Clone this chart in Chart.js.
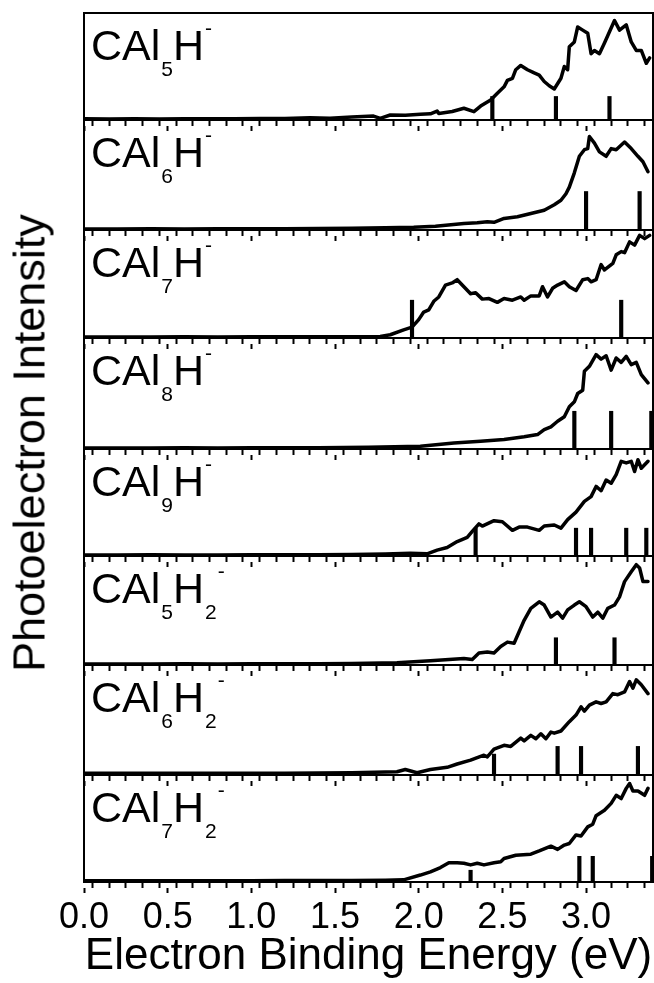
<!DOCTYPE html>
<html>
<head>
<meta charset="utf-8">
<script src="https://cdn.jsdelivr.net/npm/chart.js@4.4.1/dist/chart.umd.min.js"></script>
<style>
  html, body { margin: 0; padding: 0; background: #fff; }
  #wrap { position: relative; width: 654px; height: 983px; overflow: hidden; font-family: "Liberation Sans", Arial, sans-serif; color: #000; }
  #wrap canvas { position: absolute; left: 0; }
  .label { position: absolute; left: 91px; font-size: 43px; line-height: 43px; white-space: nowrap; }
  .label .sub { position: relative; top: 16px; font-size: 21px; margin-left: 1px; }
  .label .sup { position: relative; top: -25px; font-size: 21px; margin-left: 1px; }
  #ytitle { position: absolute; left: 29px; top: 443px; font-size: 45px; line-height: 45px; white-space: nowrap; transform: translate(-50%, -50%) rotate(-90deg); }
</style>
</head>
<body>
<div id="wrap"></div>
<script>
// species shown in each panel, top to bottom
const speciesAl = [5, 6, 7, 8, 9, 5, 6, 7];
const speciesH = [1, 1, 1, 1, 1, 2, 2, 2];

const xTitle = "Electron Binding Energy (eV)";
const yTitle = "Photoelectron Intensity";

// CAl5H-
const cal5hE = [0.00, 0.15, 0.30, 0.45, 0.60, 0.75, 0.90, 1.05, 1.20, 1.35, 1.47, 1.60, 1.73, 1.77, 1.83, 1.92, 2.01, 2.07, 2.11, 2.12, 2.20, 2.27, 2.33, 2.37, 2.43, 2.47, 2.51, 2.53, 2.56, 2.58, 2.61, 2.65, 2.69, 2.72, 2.75, 2.78, 2.81, 2.85, 2.87, 2.89, 2.90, 2.93, 2.95, 2.98, 3.01, 3.03, 3.05, 3.08, 3.11, 3.13, 3.17, 3.20, 3.24, 3.27, 3.30, 3.33, 3.36, 3.38];
const cal5hI = [0.012, 0.010, 0.012, 0.010, 0.011, 0.012, 0.012, 0.013, 0.015, 0.020, 0.016, 0.028, 0.037, 0.016, 0.047, 0.045, 0.053, 0.058, 0.084, 0.060, 0.080, 0.110, 0.078, 0.130, 0.187, 0.250, 0.310, 0.370, 0.390, 0.470, 0.510, 0.470, 0.440, 0.420, 0.360, 0.320, 0.290, 0.390, 0.500, 0.470, 0.685, 0.730, 0.870, 0.840, 0.810, 0.620, 0.650, 0.620, 0.720, 0.790, 0.930, 0.840, 0.890, 0.730, 0.650, 0.650, 0.530, 0.580];
const cal5hSticks = [2.44, 2.82, 3.14];
const cal5hStickH = [0.22, 0.22, 0.22];

// CAl6H-
const cal6hE = [0.00, 0.20, 0.40, 0.60, 0.80, 1.00, 1.20, 1.40, 1.60, 1.80, 1.97, 2.10, 2.27, 2.35, 2.41, 2.45, 2.51, 2.59, 2.67, 2.75, 2.81, 2.85, 2.88, 2.90, 2.93, 2.96, 2.99, 3.01, 3.02, 3.05, 3.08, 3.12, 3.15, 3.18, 3.23, 3.27, 3.31, 3.34, 3.37];
const cal6hI = [0.010, 0.010, 0.011, 0.010, 0.011, 0.012, 0.012, 0.013, 0.015, 0.020, 0.025, 0.035, 0.060, 0.065, 0.075, 0.070, 0.105, 0.120, 0.150, 0.180, 0.230, 0.270, 0.330, 0.390, 0.520, 0.670, 0.730, 0.740, 0.850, 0.790, 0.710, 0.670, 0.740, 0.730, 0.800, 0.740, 0.670, 0.620, 0.530];
const cal6hSticks = [3.00, 3.32];
const cal6hStickH = [0.35, 0.35];

// CAl7H-
const cal7hE = [0.00, 0.20, 0.40, 0.60, 0.80, 1.00, 1.20, 1.40, 1.60, 1.77, 1.83, 1.91, 1.96, 2.00, 2.03, 2.06, 2.09, 2.12, 2.16, 2.20, 2.23, 2.27, 2.31, 2.34, 2.38, 2.42, 2.47, 2.51, 2.56, 2.61, 2.63, 2.67, 2.72, 2.74, 2.77, 2.80, 2.83, 2.87, 2.90, 2.94, 2.98, 3.01, 3.03, 3.06, 3.09, 3.11, 3.16, 3.18, 3.21, 3.23, 3.26, 3.29, 3.32, 3.35, 3.38];
const cal7hI = [0.010, 0.010, 0.010, 0.011, 0.010, 0.011, 0.011, 0.012, 0.012, 0.015, 0.030, 0.075, 0.100, 0.170, 0.240, 0.260, 0.340, 0.380, 0.490, 0.510, 0.540, 0.475, 0.410, 0.420, 0.360, 0.365, 0.330, 0.365, 0.350, 0.380, 0.350, 0.390, 0.390, 0.475, 0.380, 0.460, 0.490, 0.520, 0.475, 0.440, 0.540, 0.550, 0.520, 0.540, 0.680, 0.630, 0.690, 0.770, 0.800, 0.790, 0.890, 0.860, 0.950, 0.920, 0.950];
const cal7hSticks = [1.96, 3.21];
const cal7hStickH = [0.35, 0.35];

// CAl8H-
const cal8hE = [0.00, 0.20, 0.40, 0.60, 0.80, 1.00, 1.20, 1.40, 1.70, 2.01, 2.21, 2.37, 2.51, 2.63, 2.71, 2.75, 2.79, 2.83, 2.87, 2.90, 2.93, 2.95, 2.98, 2.99, 3.02, 3.06, 3.09, 3.12, 3.15, 3.18, 3.21, 3.24, 3.27, 3.30, 3.33, 3.37];
const cal8hI = [0.010, 0.010, 0.010, 0.011, 0.010, 0.011, 0.011, 0.012, 0.015, 0.025, 0.055, 0.070, 0.085, 0.110, 0.130, 0.175, 0.200, 0.250, 0.290, 0.380, 0.425, 0.500, 0.530, 0.700, 0.745, 0.850, 0.810, 0.840, 0.710, 0.820, 0.780, 0.835, 0.760, 0.780, 0.670, 0.595];
const cal8hSticks = [2.93, 3.15, 3.39];
const cal8hStickH = [0.34, 0.34, 0.34];

// CAl9H-
const cal9hE = [0.00, 0.20, 0.40, 0.60, 0.80, 1.00, 1.20, 1.40, 1.60, 1.80, 1.95, 2.05, 2.11, 2.17, 2.23, 2.29, 2.32, 2.36, 2.38, 2.45, 2.50, 2.56, 2.60, 2.65, 2.72, 2.75, 2.81, 2.85, 2.89, 2.94, 2.99, 3.03, 3.06, 3.09, 3.12, 3.15, 3.18, 3.21, 3.24, 3.27, 3.29, 3.31, 3.33, 3.37];
const cal9hI = [0.010, 0.010, 0.011, 0.010, 0.010, 0.011, 0.012, 0.012, 0.013, 0.018, 0.025, 0.020, 0.055, 0.080, 0.135, 0.175, 0.230, 0.300, 0.280, 0.330, 0.320, 0.240, 0.270, 0.270, 0.240, 0.280, 0.290, 0.260, 0.340, 0.410, 0.510, 0.555, 0.650, 0.610, 0.710, 0.680, 0.760, 0.885, 0.870, 0.885, 0.790, 0.900, 0.820, 0.885];
const cal9hSticks = [2.34, 2.94, 3.03, 3.24, 3.36];
const cal9hStickH = [0.26, 0.26, 0.26, 0.26, 0.26];

// CAl5H2-
const cal5h2E = [0.00, 0.20, 0.40, 0.60, 0.80, 1.00, 1.20, 1.40, 1.60, 1.87, 2.07, 2.27, 2.32, 2.36, 2.41, 2.45, 2.49, 2.53, 2.57, 2.60, 2.63, 2.67, 2.72, 2.75, 2.79, 2.83, 2.86, 2.89, 2.93, 2.96, 3.00, 3.04, 3.07, 3.10, 3.13, 3.17, 3.20, 3.23, 3.27, 3.30, 3.32, 3.34, 3.37];
const cal5h2I = [0.010, 0.010, 0.010, 0.011, 0.010, 0.011, 0.012, 0.012, 0.014, 0.020, 0.040, 0.060, 0.050, 0.110, 0.120, 0.110, 0.170, 0.210, 0.200, 0.305, 0.410, 0.520, 0.580, 0.550, 0.440, 0.485, 0.430, 0.505, 0.550, 0.580, 0.535, 0.440, 0.485, 0.430, 0.520, 0.550, 0.625, 0.765, 0.855, 0.920, 0.890, 0.765, 0.765];
const cal5h2Sticks = [2.82, 3.17];
const cal5h2StickH = [0.25, 0.25];

// CAl6H2-
const cal6h2E = [0.00, 0.20, 0.40, 0.60, 0.80, 1.00, 1.20, 1.40, 1.60, 1.87, 1.92, 1.99, 2.07, 2.17, 2.23, 2.31, 2.39, 2.41, 2.45, 2.51, 2.55, 2.61, 2.63, 2.67, 2.70, 2.73, 2.76, 2.79, 2.81, 2.85, 2.90, 2.94, 2.97, 2.99, 3.02, 3.06, 3.09, 3.12, 3.16, 3.19, 3.23, 3.26, 3.28, 3.30, 3.33, 3.37];
const cal6h2I = [0.015, 0.015, 0.016, 0.015, 0.016, 0.017, 0.017, 0.018, 0.020, 0.030, 0.050, 0.020, 0.050, 0.070, 0.100, 0.135, 0.180, 0.165, 0.235, 0.270, 0.260, 0.335, 0.310, 0.360, 0.330, 0.375, 0.330, 0.390, 0.380, 0.400, 0.485, 0.545, 0.620, 0.580, 0.635, 0.665, 0.650, 0.665, 0.740, 0.730, 0.755, 0.850, 0.790, 0.865, 0.820, 0.740];
const cal6h2Sticks = [2.45, 2.83, 2.97, 3.31];
const cal6h2StickH = [0.19, 0.26, 0.26, 0.26];

// CAl7H2-
const cal7h2E = [0.00, 0.20, 0.40, 0.60, 0.80, 1.00, 1.20, 1.40, 1.60, 1.80, 1.91, 2.01, 2.07, 2.13, 2.18, 2.23, 2.27, 2.31, 2.35, 2.39, 2.45, 2.49, 2.51, 2.58, 2.67, 2.72, 2.79, 2.83, 2.87, 2.90, 2.94, 2.97, 3.01, 3.04, 3.06, 3.11, 3.15, 3.18, 3.21, 3.24, 3.26, 3.28, 3.31, 3.35, 3.37];
const cal7h2I = [0.012, 0.012, 0.012, 0.012, 0.012, 0.012, 0.013, 0.013, 0.014, 0.016, 0.020, 0.065, 0.095, 0.135, 0.180, 0.180, 0.175, 0.160, 0.175, 0.160, 0.180, 0.190, 0.220, 0.250, 0.260, 0.290, 0.335, 0.305, 0.345, 0.360, 0.440, 0.430, 0.515, 0.540, 0.620, 0.670, 0.735, 0.810, 0.780, 0.875, 0.920, 0.850, 0.850, 0.810, 0.875];
const cal7h2Sticks = [2.31, 2.96, 3.04, 3.395];
const cal7h2StickH = [0.11, 0.24, 0.24, 0.24];

const spectra = [
  [cal5hE, cal5hI, cal5hSticks, cal5hStickH],
  [cal6hE, cal6hI, cal6hSticks, cal6hStickH],
  [cal7hE, cal7hI, cal7hSticks, cal7hStickH],
  [cal8hE, cal8hI, cal8hSticks, cal8hStickH],
  [cal9hE, cal9hI, cal9hSticks, cal9hStickH],
  [cal5h2E, cal5h2I, cal5h2Sticks, cal5h2StickH],
  [cal6h2E, cal6h2I, cal6h2Sticks, cal6h2StickH],
  [cal7h2E, cal7h2I, cal7h2Sticks, cal7h2StickH],
];

// page layout (pixel edges of the stacked panels)
const panelEdges = [13, 120, 230, 338, 449, 556, 665, 775, 882];
const PAGE_H = 983;
const INK = "#000";
const FONT = "'Liberation Sans', Arial, sans-serif";

Chart.defaults.font.family = FONT;

const wrap = document.getElementById("wrap");

function toPoints(xs, ys) {
  return xs.map((x, i) => ({ x, y: ys[i] }));
}

function hiddenAxis(position) {
  return {
    type: "linear",
    position,
    min: 0,
    max: position === "top" ? 3.4 : 1,
    border: { display: true, color: INK, width: 2 },
    grid: { display: false, drawTicks: false },
    ticks: { display: false },
  };
}

function drawPanel(idx) {
  const [energy, intensity, sticks, stickH] = spectra[idx];
  const isLast = idx === spectra.length - 1;
  const top = panelEdges[idx] - 1;
  const plotH = panelEdges[idx + 1] - panelEdges[idx];
  const height = isLast ? PAGE_H - top : plotH + 13;

  const canvas = document.createElement("canvas");
  canvas.width = 654;
  canvas.height = height;
  canvas.style.top = top + "px";
  wrap.appendChild(canvas);

  const config = {
    type: "line",
    data: {
      datasets: [
        {
          type: "line",
          data: toPoints(energy, intensity),
          borderColor: INK,
          borderWidth: 3.5,
          pointRadius: 0,
          tension: 0,
          borderJoinStyle: "round",
          borderCapStyle: "round",
        },
        {
          type: "bar",
          data: toPoints(sticks, stickH),
          backgroundColor: INK,
          barThickness: 3.5,
        },
      ],
    },
    options: {
      responsive: false,
      animation: false,
      devicePixelRatio: 1,
      events: [],
      layout: { padding: { top: 1, bottom: isLast ? 0 : 1, left: 84, right: 1 } },
      plugins: { legend: { display: false }, tooltip: { enabled: false } },
      scales: {
        x: {
          type: "linear",
          position: "bottom",
          weight: 0,
          offset: false,
          min: 0,
          max: 3.4,
          border: { display: true, color: INK, width: 2 },
          grid: { display: true, drawOnChartArea: false, drawTicks: true, tickLength: 6, tickWidth: 2, tickColor: INK },
          ticks: { display: false, stepSize: 0.1 },
        },
        x2: {
          type: "linear",
          position: "bottom",
          weight: 1,
          offset: false,
          min: 0,
          max: 3.4,
          border: { display: false },
          grid: { display: true, drawOnChartArea: false, drawTicks: true, tickLength: 5, tickWidth: 2, tickColor: INK },
          ticks: {
            display: isLast,
            stepSize: 0.5,
            includeBounds: false,
            autoSkip: false,
            maxRotation: 0,
            padding: 3,
            color: INK,
            font: { family: FONT, size: 36 },
            callback: value => value.toFixed(1),
          },
          title: { display: isLast, text: xTitle, color: INK, font: { family: FONT, size: 44 }, padding: 0 },
          afterFit: isLast ? (scale => { scale.height = height - 1 - plotH - 6; }) : undefined,
        },
        xTop: hiddenAxis("top"),
        y: { ...hiddenAxis("left"), min: 0, max: 1 },
        yRight: { ...hiddenAxis("right"), min: 0, max: 1 },
      },
    },
  };

  new Chart(canvas.getContext("2d"), config);

  const label = document.createElement("div");
  label.className = "label";
  label.style.top = (panelEdges[idx] + 11) + "px";
  label.innerHTML = "CAl<span class='sub'>" + speciesAl[idx] + "</span>H" +
    (speciesH[idx] > 1 ? "<span class='sub'>" + speciesH[idx] + "</span>" : "") +
    "<span class='sup'>-</span>";
  wrap.appendChild(label);
}

spectra.forEach((_, idx) => drawPanel(idx));

const yLabel = document.createElement("div");
yLabel.id = "ytitle";
yLabel.textContent = yTitle;
wrap.appendChild(yLabel);
</script>
</body>
</html>
